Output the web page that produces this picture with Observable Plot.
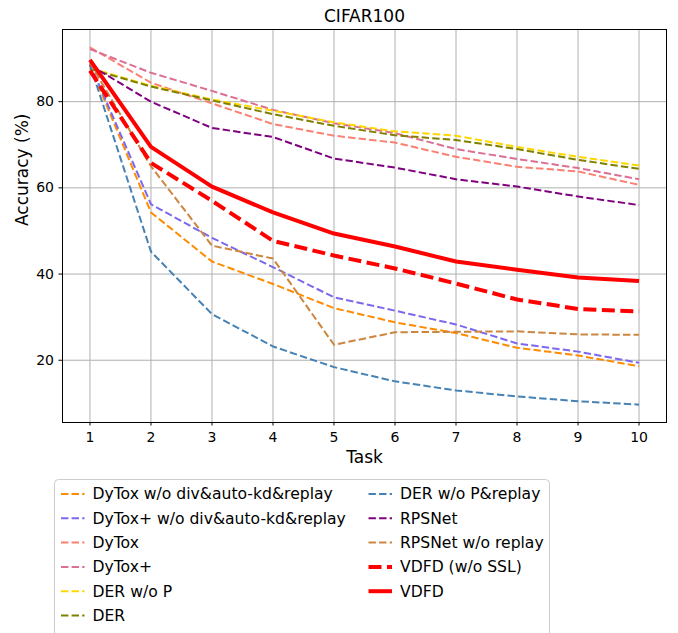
<!DOCTYPE html>
<html>
<head>
<meta charset="utf-8">
<script src="https://cdn.jsdelivr.net/npm/d3@7"></script>
<script src="https://cdn.jsdelivr.net/npm/@observablehq/plot@0.6"></script>
<style>
  html, body { margin: 0; padding: 0; background: #fff; overflow: hidden; }
  #wrap { position: relative; width: 678px; height: 633px; font-family: "DejaVu Sans", sans-serif; }
  #legend { position: absolute; left: 0; top: 0; pointer-events: none; }
</style>
</head>
<body>
<div id="wrap"></div>
<script>
// ---- data ----
const tasks = [1, 2, 3, 4, 5, 6, 7, 8, 9, 10];
const yTicks = [20, 40, 60, 80];
const dytoxWoAll      = [88.5, 54.3, 42.9, 37.7, 32.1, 28.8, 26.3, 22.9, 21.1, 18.6];
const dytoxPlusWoAll  = [88.8, 56.2, 48.4, 41.6, 34.6, 31.5, 28.3, 23.9, 22.0, 19.4];
const dytox           = [92.6, 84.4, 79.6, 74.8, 72.1, 70.5, 67.2, 64.9, 63.8, 60.7];
const dytoxPlus       = [92.2, 86.7, 82.5, 78.1, 75.0, 72.7, 69.0, 66.7, 64.6, 62.0];
const derWoP          = [87.8, 83.7, 80.5, 77.9, 75.2, 73.1, 72.1, 69.5, 67.2, 65.2];
const der             = [87.6, 83.5, 80.3, 77.1, 74.4, 72.2, 71.1, 69.0, 66.5, 64.4];
const derWoPReplay    = [88.6, 45.2, 30.7, 23.2, 18.4, 15.1, 13.0, 11.6, 10.5, 9.7];
const rpsnet          = [88.5, 80.0, 73.9, 71.8, 66.8, 64.7, 62.0, 60.3, 58.0, 56.0];
const rpsnetWoReplay  = [89.0, 65.0, 46.6, 43.6, 23.6, 26.5, 26.6, 26.7, 26.0, 25.9];
const vdfdWoSSL       = [87.2, 65.8, 57.0, 47.7, 44.3, 41.3, 37.8, 34.1, 31.9, 31.3];
const vdfd            = [89.7, 69.5, 60.3, 54.3, 49.4, 46.4, 42.9, 41.0, 39.2, 38.4];

const seriesNames = [
  "DyTox w/o div&auto-kd&replay", "DyTox+ w/o div&auto-kd&replay", "DyTox", "DyTox+",
  "DER w/o P", "DER", "DER w/o P&replay", "RPSNet", "RPSNet w/o replay", "VDFD (w/o SSL)", "VDFD"
];
const seriesValues = [
  dytoxWoAll, dytoxPlusWoAll, dytox, dytoxPlus, derWoP, der,
  derWoPReplay, rpsnet, rpsnetWoReplay, vdfdWoSSL, vdfd
];
const seriesColors = [
  "#FF8C00", "#7B68EE", "#FA8072", "#DB7093", "#FFD700", "#808000",
  "#4682B4", "#800080", "#CD853F", "#FF0000", "#FF0000"
];
// style per series: [strokeWidth, dasharray]
const thinDash = "7.4,3.2";
const thickDash = "13,5.5";
const seriesStyles = seriesNames.map((n, i) =>
  i === 10 ? {w: 4, dash: null} : i === 9 ? {w: 4, dash: thickDash} : {w: 2, dash: thinDash});

// ---- scales (matplotlib-like 5% margins) ----
const all = seriesValues.flat();
const [ymin, ymax] = d3.extent(all);
const ypad = (ymax - ymin) * 0.05;
const xpad = (d3.max(tasks) - d3.min(tasks)) * 0.05;

const W = 678, H = 478;
const lineMarks = seriesNames.map((name, i) => {
  const rows = tasks.map((t, j) => ({task: t, acc: seriesValues[i][j]}));
  const st = seriesStyles[i];
  const opts = {x: "task", y: "acc", stroke: seriesColors[i], strokeWidth: st.w,
                strokeLinejoin: "round", strokeLinecap: "butt"};
  if (st.dash) opts.strokeDasharray = st.dash;
  return Plot.line(rows, opts);
});

const chart = Plot.plot({
  width: W, height: H,
  marginLeft: 62, marginRight: 12, marginTop: 29, marginBottom: 56,
  style: {fontFamily: "DejaVu Sans, sans-serif", background: "#fff", color: "#000"},
  x: {domain: [d3.min(tasks) - xpad, d3.max(tasks) + xpad]},
  y: {domain: [ymin - ypad, ymax + ypad]},
  marks: [
    Plot.gridX(tasks, {stroke: "#b0b0b0", strokeOpacity: 1, strokeWidth: 1}),
    Plot.gridY(yTicks, {stroke: "#b0b0b0", strokeOpacity: 1, strokeWidth: 1}),
    ...lineMarks,
    Plot.frame({stroke: "#000", strokeWidth: 1}),
    Plot.axisX(tasks, {tickSize: 3.5, tickPadding: 6, fontSize: 14, label: null, tickFormat: d => String(d), stroke: "#000"}),
    Plot.axisY(yTicks, {tickSize: 3.5, tickPadding: 5, fontSize: 14, label: null, tickFormat: d => String(d), stroke: "#000"}),
    Plot.text(["CIFAR100"], {frameAnchor: "top", dy: -8, lineAnchor: "bottom", fontSize: 17, fill: "#000"}),
    Plot.text(["Task"], {frameAnchor: "bottom", dy: 35, lineAnchor: "middle", fontSize: 17, fill: "#000"}),
    Plot.text(["Accuracy (%)"], {frameAnchor: "left", dx: -40, rotate: -90, lineAnchor: "middle", fontSize: 17, fill: "#000"})
  ]
});

const wrap = document.getElementById("wrap");
wrap.appendChild(chart);

// ---- legend ----
const leg = d3.select(wrap).append("svg")
  .attr("id", "legend").attr("width", 678).attr("height", 633);
leg.append("rect")
  .attr("x", 54.5).attr("y", 479.5).attr("width", 495).attr("height", 170)
  .attr("rx", 4).attr("fill", "#fff").attr("stroke", "#cccccc").attr("stroke-width", 1);
const perCol = 6;
seriesNames.forEach((name, i) => {
  const col = Math.floor(i / perCol), row = i % perCol;
  const cy = 494 + row * 24.3;
  const hx = col === 0 ? 61 : 368.5;
  const st = seriesStyles[i];
  const ln = leg.append("line")
    .attr("x1", hx).attr("x2", hx + 23.5).attr("y1", cy).attr("y2", cy)
    .attr("stroke", seriesColors[i]).attr("stroke-width", st.w);
  if (st.dash) ln.attr("stroke-dasharray", st.dash);
  leg.append("text")
    .attr("x", hx + 31.5).attr("y", cy).attr("dy", "0.35em")
    .attr("font-family", "DejaVu Sans, sans-serif").attr("font-size", 15.6)
    .attr("fill", "#000").text(name);
});
</script>
</body>
</html>
